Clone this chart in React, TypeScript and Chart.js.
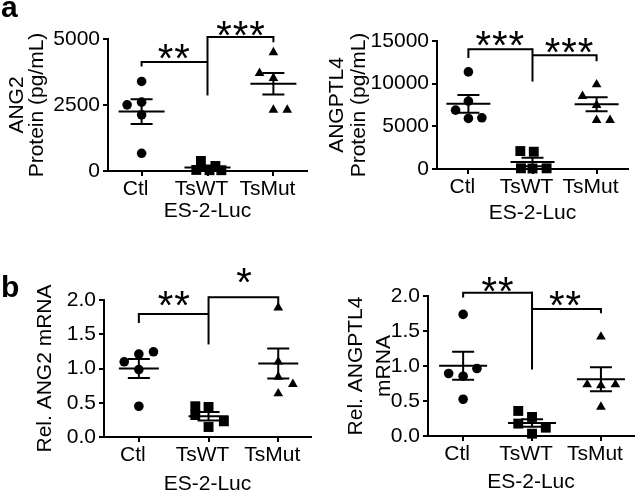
import React, { useEffect, useRef } from 'react';
import { Chart, registerables } from 'chart.js';

Chart.register(...registerables);

const FONT = '"Liberation Sans", Arial, Helvetica, sans-serif';

// ---------- shared labels ----------
const categories = ['Ctl', 'TsWT', 'TsMut'];
const xAxisTitle = 'ES-2-Luc';

// ---------- panel a (left): ANG2 protein ----------
const ang2ProteinCtl = [3392, 2506, 2608, 2127, 671];
const ang2ProteinTsWT = [380, 190, 40, 30, 30];
const ang2ProteinTsMut = [4494, 3709, 3519, 2316, 2316];
const ang2ProteinMean = [2253, 135, 3304];
const ang2ProteinSem = [468, 70, 410];
const ang2ProteinTicks = [0, 2500, 5000];
// bracket: [left bar, Ctl end, right bar, TsMut end, stem bottom]
const ang2ProteinBracket = [4127, 3962, 5076, 4873, 2861];
const ang2ProteinStars = ['**', '***'];
const ang2ProteinStarX = [0.49, 1.5];
const ang2ProteinStarY = [4519, 5405];

// ---------- panel a (right): ANGPTL4 protein ----------
const angptl4ProteinCtl = [11377, 7948, 6896, 5922, 6000];
const angptl4ProteinTsWT = [2104, 2026, 80, 60, 80];
const angptl4ProteinTsMut = [9896, 8532, 7480, 5727, 5727];
const angptl4ProteinMean = [7640, 818, 7600];
const angptl4ProteinSem = [1040, 500, 820];
const angptl4ProteinTicks = [0, 5000, 10000, 15000];
const angptl4ProteinBracket = [14026, 13013, 13325, 12623, 10247];
const angptl4ProteinStars = ['***', '***'];
const angptl4ProteinStarX = [0.49, 1.57];
const angptl4ProteinStarY = [15316, 14450];

// ---------- panel b (left): Rel. ANG2 mRNA ----------
const ang2MrnaCtl = [1.21, 1.244, 1.098, 0.985, 0.449];
const ang2MrnaTsWT = [0.449, 0.439, 0.32, 0.229, 0.146];
const ang2MrnaTsMut = [1.888, 1.098, 0.878, 0.771, 0.634];
const ang2MrnaMean = [1.0, 0.302, 1.073];
const ang2MrnaSem = [0.14, 0.062, 0.22];
const ang2MrnaTicks = [0, 0.5, 1.0, 1.5, 2.0];
const ang2MrnaBracket = [1.795, 1.663, 2.039, 1.941, 1.351];
const ang2MrnaStars = ['**', '*'];
const ang2MrnaStarX = [0.5, 1.51];
const ang2MrnaStarY = [2.025, 2.355];

// ---------- panel b (right): Rel. ANGPTL4 mRNA ----------
const angptl4MrnaCtl = [1.737, 0.964, 0.893, 0.854, 0.525];
const angptl4MrnaTsWT = [0.358, 0.272, 0.177, 0.119, 0.033];
const angptl4MrnaTsMut = [1.418, 0.735, 0.721, 0.735, 0.415];
const angptl4MrnaMean = [1.002, 0.186, 0.811];
const angptl4MrnaSem = [0.2, 0.055, 0.172];
const angptl4MrnaTicks = [0, 0.5, 1.0, 1.5, 2.0];
const angptl4MrnaBracket = [2.048, 1.98, 1.814, 1.752, 0.95];
const angptl4MrnaStars = ['**', '**'];
const angptl4MrnaStarX = [0.5, 1.48];
const angptl4MrnaStarY = [2.17, 1.967];

// horizontal scatter (jitter) of the dots within each group, in category units
const jitterA1 = [[0, -0.22, 0, 0, 0], [-0.1, 0.12, -0.17, 0.03, 0.21], [0, -0.21, 0, 0, 0.21]];
const jitterA2 = [[0, 0, -0.2, 0, 0.21], [-0.19, 0.02, -0.18, 0, 0.22], [0, -0.22, 0, 0, 0.21]];
const jitterB1 = [[0, 0.21, -0.21, 0, 0], [-0.19, 0, -0.19, 0.22, 0], [0, 0, 0, 0.21, 0]];
const jitterB2 = [[0, 0.2, -0.21, 0, 0], [-0.2, 0, -0.2, 0.2, 0], [0, -0.2, 0, 0.21, 0]];

type Panel = {
  box: { left: number; top: number; width: number; height: number };
  area: { left: number; top: number; right: number; bottom: number };
  xRange: [number, number];
  yTicks: number[];
  decimals: number;
  yTitle: string | string[];
  yTitleLine: number;
  yTitlePad: number;
  xTitleGap: number;
  groups: number[][];
  jitter: number[][];
  mean: number[];
  sem: number[];
  bracket: number[];
  stars: string[];
  starX: number[];
  starY: number[];
  meanHalf: number;
};

const panels: Panel[] = [
  {
    box: { left: 0, top: 0, width: 320, height: 240 },
    area: { left: 108, top: 39, right: 307, bottom: 171 },
    xRange: [-0.51, 2.51],
    yTicks: ang2ProteinTicks,
    decimals: 0,
    yTitle: ['ANG2', 'Protein (pg/mL)'],
    yTitleLine: 20.5,
    yTitlePad: 6.5,
    xTitleGap: 40,
    groups: [ang2ProteinCtl, ang2ProteinTsWT, ang2ProteinTsMut],
    jitter: jitterA1,
    mean: ang2ProteinMean,
    sem: ang2ProteinSem,
    bracket: ang2ProteinBracket,
    stars: ang2ProteinStars,
    starX: ang2ProteinStarX,
    starY: ang2ProteinStarY,
    meanHalf: 23,
  },
  {
    box: { left: 320, top: 0, width: 321, height: 240 },
    area: { left: 117, top: 41, right: 308, bottom: 169 },
    xRange: [-0.49, 2.49],
    yTicks: angptl4ProteinTicks,
    decimals: 0,
    yTitle: ['ANGPTL4', 'Protein (pg/mL)'],
    yTitleLine: 22,
    yTitlePad: 6.5,
    xTitleGap: 44,
    groups: [angptl4ProteinCtl, angptl4ProteinTsWT, angptl4ProteinTsMut],
    jitter: jitterA2,
    mean: angptl4ProteinMean,
    sem: angptl4ProteinSem,
    bracket: angptl4ProteinBracket,
    stars: angptl4ProteinStars,
    starX: angptl4ProteinStarX,
    starY: angptl4ProteinStarY,
    meanHalf: 22,
  },
  {
    box: { left: 0, top: 250, width: 320, height: 244 },
    area: { left: 104, top: 50, right: 311, bottom: 187 },
    xRange: [-0.5, 2.47],
    yTicks: ang2MrnaTicks,
    decimals: 1,
    yTitle: 'Rel. ANG2 mRNA',
    yTitleLine: 21,
    yTitlePad: 34.5,
    xTitleGap: 47,
    groups: [ang2MrnaCtl, ang2MrnaTsWT, ang2MrnaTsMut],
    jitter: jitterB1,
    mean: ang2MrnaMean,
    sem: ang2MrnaSem,
    bracket: ang2MrnaBracket,
    stars: ang2MrnaStars,
    starX: ang2MrnaStarX,
    starY: ang2MrnaStarY,
    meanHalf: 20,
  },
  {
    box: { left: 320, top: 250, width: 321, height: 244 },
    area: { left: 108, top: 46, right: 318, bottom: 186 },
    xRange: [-0.51, 2.48],
    yTicks: angptl4MrnaTicks,
    decimals: 1,
    yTitle: ['Rel. ANGPTL4', 'mRNA'],
    yTitleLine: 28,
    yTitlePad: 22,
    xTitleGap: 46,
    groups: [angptl4MrnaCtl, angptl4MrnaTsWT, angptl4MrnaTsMut],
    jitter: jitterB2,
    mean: angptl4MrnaMean,
    sem: angptl4MrnaSem,
    bracket: angptl4MrnaBracket,
    stars: angptl4MrnaStars,
    starX: angptl4MrnaStarX,
    starY: angptl4MrnaStarY,
    meanHalf: 24,
  },
];

const pointStyles = ['circle', 'rect', 'triangle'];
const pointRadii = [4.8, 7, 5.6];
const FS = 21;
const SEM_HALF = 11;
const STAR_FONT = `40px ${FONT}`;
const STAR_SPACING = 16.5;

function makeAnnotPlugin(p: Panel) {
  return {
    id: 'annot',
    afterDatasetsDraw(chart: any) {
      const ctx: CanvasRenderingContext2D = chart.ctx;
      const xs = chart.scales.x;
      const ys = chart.scales.y;
      const X = (v: number) => xs.getPixelForValue(v);
      const Y = (v: number) => ys.getPixelForValue(v);
      ctx.save();
      ctx.strokeStyle = '#000';
      ctx.fillStyle = '#000';
      ctx.lineWidth = 2;
      ctx.lineCap = 'butt';
      ctx.lineJoin = 'miter';
      // mean ± SEM
      p.mean.forEach((m, i) => {
        const s = p.sem[i];
        const cx = X(i);
        ctx.beginPath();
        ctx.moveTo(cx - p.meanHalf, Y(m));
        ctx.lineTo(cx + p.meanHalf, Y(m));
        ctx.moveTo(cx - SEM_HALF, Y(m + s));
        ctx.lineTo(cx + SEM_HALF, Y(m + s));
        ctx.moveTo(cx - SEM_HALF, Y(m - s));
        ctx.lineTo(cx + SEM_HALF, Y(m - s));
        ctx.moveTo(cx, Y(m + s));
        ctx.lineTo(cx, Y(m - s));
        ctx.stroke();
      });
      // significance brackets
      const [lY, lEnd, rY, rEnd, stemBottom] = p.bracket;
      ctx.beginPath();
      ctx.moveTo(X(0), Y(lEnd));
      ctx.lineTo(X(0), Y(lY));
      ctx.lineTo(X(1), Y(lY));
      ctx.stroke();
      ctx.beginPath();
      ctx.moveTo(X(2), Y(rEnd));
      ctx.lineTo(X(2), Y(rY));
      ctx.lineTo(X(1), Y(rY));
      ctx.stroke();
      ctx.beginPath();
      ctx.moveTo(X(1), Y(Math.max(lY, rY)) - 1);
      ctx.lineTo(X(1), Y(stemBottom));
      ctx.stroke();
      // stars
      ctx.font = STAR_FONT;
      ctx.textAlign = 'center';
      ctx.textBaseline = 'alphabetic';
      const m = ctx.measureText('*');
      const shift = (m.actualBoundingBoxAscent - m.actualBoundingBoxDescent) / 2;
      p.stars.forEach((txt, k) => {
        const n = txt.length;
        const cx = X(p.starX[k]);
        const cy = Y(p.starY[k]) + shift;
        for (let j = 0; j < n; j++) {
          ctx.fillText('*', cx + (j - (n - 1) / 2) * STAR_SPACING, cy);
        }
      });
      ctx.restore();
    },
  };
}

function buildConfig(p: Panel): any {
  const xH = p.xTitleGap + 10;
  const axisCommon = {
    grid: { drawOnChartArea: false, drawTicks: true, tickLength: 5, color: '#000', lineWidth: 2 },
    border: { display: true, color: '#000', width: 2 },
  };
  return {
    type: 'scatter',
    data: {
      datasets: p.groups.map((vals, g) => ({
        label: categories[g],
        data: vals.map((v, k) => ({ x: g + p.jitter[g][k], y: v })),
        pointStyle: pointStyles[g],
        pointRadius: pointRadii[g],
        pointHoverRadius: pointRadii[g],
        backgroundColor: '#000',
        borderColor: '#000',
        borderWidth: 0,
        showLine: false,
        clip: false,
      })),
    },
    options: {
      responsive: false,
      animation: false,
      events: [],
      layout: {
        padding: {
          left: 0,
          top: p.area.top,
          right: p.box.width - p.area.right,
          bottom: p.box.height - p.area.bottom - xH,
        },
      },
      plugins: { legend: { display: false }, tooltip: { enabled: false } },
      scales: {
        x: {
          type: 'linear',
          position: 'bottom',
          min: p.xRange[0],
          max: p.xRange[1],
          afterBuildTicks: (s: any) => {
            s.ticks = categories.map((_, i) => ({ value: i }));
          },
          afterFit: (s: any) => {
            s.height = xH;
          },
          ticks: {
            autoSkip: false,
            maxRotation: 0,
            minRotation: 0,
            padding: 1,
            labelOffset: -6,
            color: '#000',
            font: { family: FONT, size: FS },
            callback: (v: number) => categories[Math.round(v)] ?? '',
          },
          title: {
            display: true,
            text: xAxisTitle,
            color: '#000',
            font: { family: FONT, size: FS, lineHeight: 20 / FS },
            padding: { top: 0, bottom: 0 },
          },
          ...axisCommon,
        },
        y: {
          type: 'linear',
          min: p.yTicks[0],
          max: p.yTicks[p.yTicks.length - 1],
          afterBuildTicks: (s: any) => {
            s.ticks = p.yTicks.map((v) => ({ value: v }));
          },
          afterFit: (s: any) => {
            s.width = p.area.left;
          },
          ticks: {
            padding: 3,
            color: '#000',
            font: { family: FONT, size: FS },
            callback: (v: number) => Number(v).toFixed(p.decimals),
          },
          title: {
            display: true,
            text: p.yTitle,
            color: '#000',
            font: { family: FONT, size: FS, lineHeight: p.yTitleLine / FS },
            padding: { top: p.yTitlePad, bottom: 0 },
          },
          ...axisCommon,
        },
      },
    },
    plugins: [makeAnnotPlugin(p)],
  };
}

function PanelChart({ p }: { p: Panel }) {
  const ref = useRef<HTMLCanvasElement>(null);
  useEffect(() => {
    if (!ref.current) return;
    const chart = new Chart(ref.current, buildConfig(p));
    return () => chart.destroy();
  }, [p]);
  return (
    <canvas
      ref={ref}
      width={p.box.width}
      height={p.box.height}
      style={{ position: 'absolute', left: p.box.left, top: p.box.top, width: p.box.width, height: p.box.height }}
    />
  );
}

const panelLetterStyle: React.CSSProperties = {
  position: 'absolute',
  fontFamily: FONT,
  fontWeight: 'bold',
  fontSize: 30,
  lineHeight: '30px',
  color: '#000',
};

export default function App() {
  return (
    <div
      style={{
        position: 'fixed',
        left: 0,
        top: 0,
        width: 641,
        height: 494,
        background: '#fff',
        overflow: 'hidden',
      }}
    >
      {panels.map((p, i) => (
        <PanelChart key={i} p={p} />
      ))}
      <div style={{ ...panelLetterStyle, left: 1, top: -8 }}>a</div>
      <div style={{ ...panelLetterStyle, left: 1, top: 272 }}>b</div>
    </div>
  );
}
